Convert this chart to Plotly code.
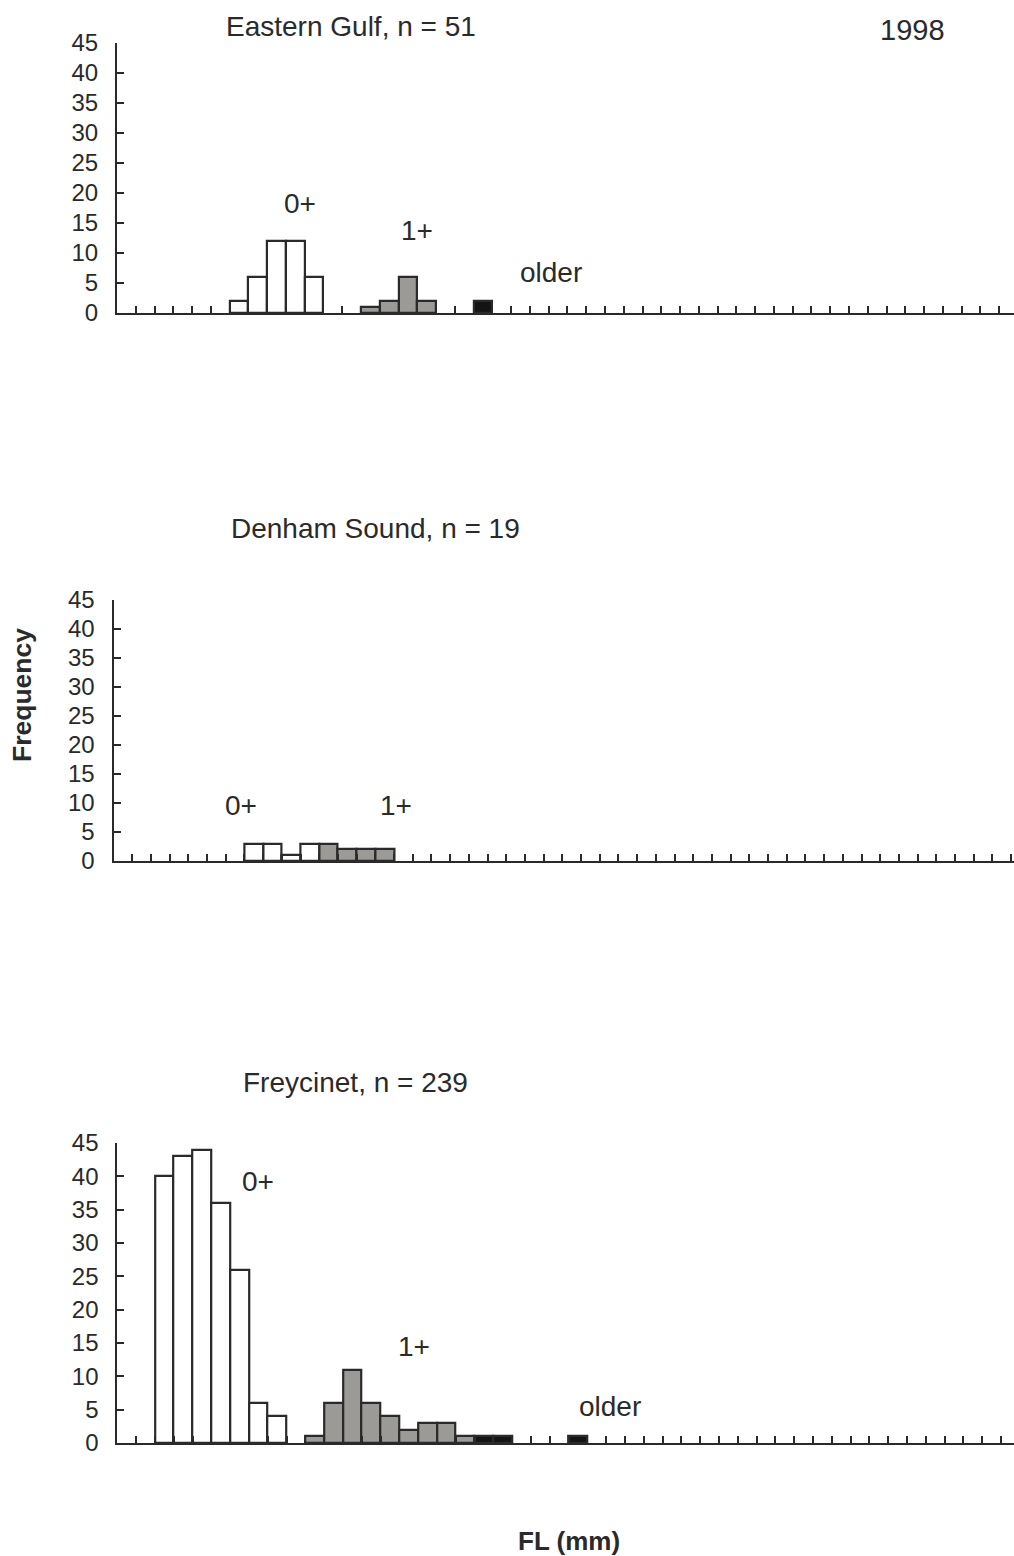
import plotly.graph_objects as go

# Length-frequency histograms by region; x = fork-length class index
W, H = 1014, 1556

# Eastern Gulf
eg_bins_0, eg_freq_0 = [6, 7, 8, 9, 10], [2, 6, 12, 12, 6]
eg_bins_1, eg_freq_1 = [13, 14, 15, 16], [1, 2, 6, 2]
eg_bins_old, eg_freq_old = [19], [2]

# Denham Sound
ds_bins_0, ds_freq_0 = [7, 8, 9, 10], [3, 3, 1, 3]
ds_bins_1, ds_freq_1 = [11, 12, 13, 14], [3, 2, 2, 2]

# Freycinet
fr_bins_0, fr_freq_0 = [2, 3, 4, 5, 6, 7, 8], [40, 43, 44, 36, 26, 6, 4]
fr_bins_1, fr_freq_1 = [10, 11, 12, 13, 14, 15, 16, 17, 18], [1, 6, 11, 6, 4, 2, 3, 3, 1]
fr_bins_old, fr_freq_old = [19, 20, 24], [1, 1, 1]

y_ticks = [0, 5, 10, 15, 20, 25, 30, 35, 40, 45]

FONT = "Liberation Sans, Arial, sans-serif"
INK = "#2a2a2a"
FILL = {"0+": "#ffffff", "1+": "#9b9a96", "older": "#141414"}

fig = go.Figure()


def add_bars(bins, freq, cls, n):
    fig.add_trace(go.Bar(
        x=bins, y=freq, width=1.0, xaxis=f"x{n}" if n > 1 else "x",
        yaxis=f"y{n}" if n > 1 else "y", showlegend=False,
        marker=dict(color=FILL[cls], line=dict(color=INK, width=2.2)),
    ))


add_bars(eg_bins_0, eg_freq_0, "0+", 1)
add_bars(eg_bins_1, eg_freq_1, "1+", 1)
add_bars(eg_bins_old, eg_freq_old, "older", 1)
add_bars(ds_bins_0, ds_freq_0, "0+", 2)
add_bars(ds_bins_1, ds_freq_1, "1+", 2)
add_bars(fr_bins_0, fr_freq_0, "0+", 3)
add_bars(fr_bins_1, fr_freq_1, "1+", 3)
add_bars(fr_bins_old, fr_freq_old, "older", 3)

# panel geometry in pixels: left, right, top (y=45), bottom (y=0), class width
panels = [
    (117, 1014, 43, 313, 18.77),
    (113.5, 1014, 600, 861, 18.70),
    (117.3, 1014, 1143, 1443, 18.80),
]

layout = {}
for i, (l, r, t, b, bw) in enumerate(panels, start=1):
    sfx = "" if i == 1 else str(i)
    nbins = (r - l) / bw
    layout[f"xaxis{sfx}"] = dict(
        domain=[l / W, r / W], anchor=f"y{sfx}" if sfx else "y",
        range=[-0.5, -0.5 + nbins], showgrid=False, zeroline=False,
        showline=True, linecolor=INK, linewidth=2,
        ticks="inside", ticklen=7, tickwidth=2, tickcolor=INK,
        tickvals=[k + 0.5 for k in range(int(nbins))], showticklabels=False,
        automargin=False, fixedrange=True,
    )
    layout[f"yaxis{sfx}"] = dict(
        domain=[1 - b / H, 1 - t / H], anchor=f"x{sfx}" if sfx else "x",
        range=[0, 45], showgrid=False, zeroline=False,
        showline=True, linecolor=INK, linewidth=2,
        ticks="inside", ticklen=7, tickwidth=2, tickcolor=INK,
        tickvals=y_ticks, ticktext=[str(v) for v in y_ticks],
        tickfont=dict(family=FONT, size=24, color=INK),
        ticklabelstandoff=12, automargin=False, fixedrange=True,
    )

annotations = []


def paper_text(text, x, y, size=28, bold=False, angle=0):
    annotations.append(dict(
        text=f"<b>{text}</b>" if bold else text, x=x / W, y=1 - y / H,
        xref="paper", yref="paper", showarrow=False, textangle=angle,
        xanchor="center", yanchor="middle",
        font=dict(family=FONT, size=size, color=INK),
    ))


def class_label(text, n, x, y, size=28):
    sfx = "" if n == 1 else str(n)
    annotations.append(dict(
        text=text, x=x, y=y, xref=f"x{sfx}", yref=f"y{sfx}",
        showarrow=False, xanchor="center", yanchor="middle",
        font=dict(family=FONT, size=size, color=INK),
    ))


paper_text("Eastern Gulf, n = 51", 351, 27)
paper_text("1998", 912, 30, size=29)
paper_text("Denham Sound, n = 19", 375, 528)
paper_text("Freycinet, n = 239", 355, 1082)
paper_text("Frequency", 22, 695, size=26.5, bold=True, angle=-90)
paper_text("FL (mm)", 569, 1541, size=26, bold=True)

class_label("0+", 1, 9.25, 18.3)
class_label("1+", 1, 15.5, 13.8)
class_label("older", 1, 22.6, 6.7)
class_label("0+", 2, 6.3, 9.5)
class_label("1+", 2, 14.6, 9.5)
class_label("0+", 3, 7.0, 39.2)
class_label("1+", 3, 15.3, 14.5)
class_label("older", 3, 25.7, 5.5)

fig.update_layout(
    template="none",
    width=W, height=H,
    margin=dict(l=0, r=0, t=0, b=0, pad=0, autoexpand=False),
    paper_bgcolor="white", plot_bgcolor="white",
    bargap=0, barmode="overlay", annotations=annotations,
    **layout,
)

fig.write_html("out.html")
